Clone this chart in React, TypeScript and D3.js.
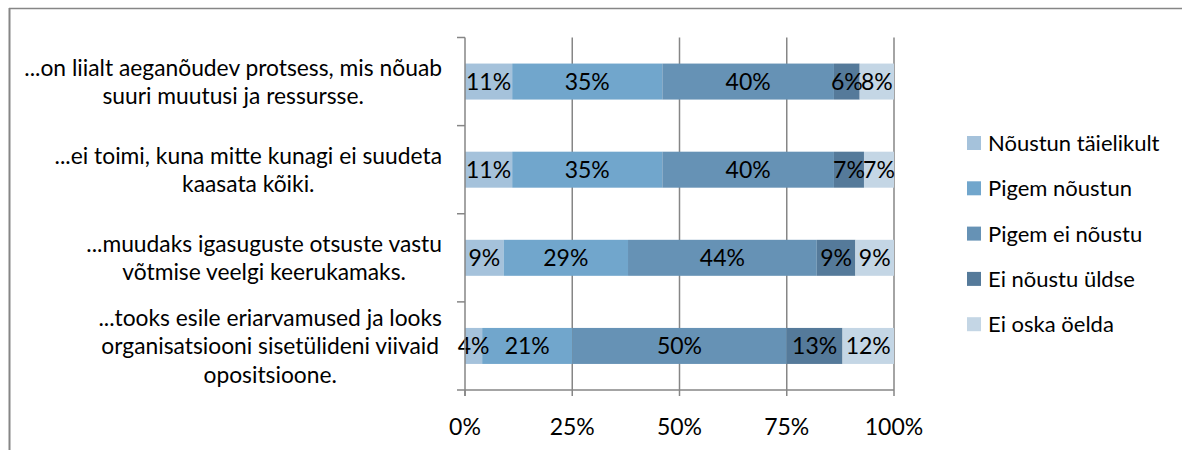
import React, { useEffect, useRef } from 'react';
import * as d3 from 'd3';

// statements (y categories), each split into its wrapped lines
const categories = [
  ['...on liialt aeganõudev protsess, mis nõuab', 'suuri muutusi ja ressursse.'],
  ['...ei toimi, kuna mitte kunagi ei suudeta', 'kaasata kõiki.'],
  ['...muudaks igasuguste otsuste vastu', 'võtmise veelgi keerukamaks.'],
  ['...tooks esile eriarvamused ja looks', 'organisatsiooni sisetülideni viivaid', 'opositsioone.'],
];

const seriesNames = ['Nõustun täielikult', 'Pigem nõustun', 'Pigem ei nõustu', 'Ei nõustu üldse', 'Ei oska öelda'];
const seriesColors = ['#a5c2db', '#71a6cc', '#6692b5', '#557a9a', '#c4d6e5'];

// percent per category, top to bottom
const noustunTaielikult = [11, 11, 9, 4];
const pigemNoustun = [35, 35, 29, 21];
const pigemEiNoustu = [40, 40, 44, 50];
const eiNoustuUldse = [6, 7, 9, 13];
const eiOskaOelda = [8, 7, 9, 12];

const tickValues = [0, 25, 50, 75, 100];

const FONT = 'Lato, "Open Sans", sans-serif';
const GRID = '#868686';

export default function App() {
  const ref = useRef<SVGSVGElement>(null);

  useEffect(() => {
    const svg = d3.select(ref.current);
    svg.selectAll('*').remove();

    const width = 1182;
    const height = 450;
    const left = 465, right = 894, top = 37.5, bottom = 390;
    const barH = 36;

    const series = [noustunTaielikult, pigemNoustun, pigemEiNoustu, eiNoustuUldse, eiOskaOelda];
    const rows = categories.map((c, i) => {
      let acc = 0;
      return series.map((s, k) => {
        const seg = { k, v: s[i], x0: acc, x1: acc + s[i] };
        acc += s[i];
        return seg;
      });
    });

    const x = d3.scaleLinear().domain([0, 100]).range([left, right]);
    const y = d3.scaleBand<number>().domain(d3.range(categories.length)).range([top, bottom]).padding(0);

    // outer frame (top + left edges visible)
    svg.append('line').attr('x1', 9).attr('x2', width).attr('y1', 8.5).attr('y2', 8.5)
      .attr('stroke', GRID).attr('stroke-width', 1.5);
    svg.append('line').attr('x1', 9.5).attr('x2', 9.5).attr('y1', 8).attr('y2', height)
      .attr('stroke', GRID).attr('stroke-width', 2);

    // vertical gridlines
    svg.append('g').selectAll('line')
      .data(tickValues.slice(1))
      .enter().append('line')
      .attr('x1', d => x(d)).attr('x2', d => x(d))
      .attr('y1', top).attr('y2', bottom)
      .attr('stroke', GRID).attr('stroke-width', 1.5);

    // bars
    const g = svg.append('g');
    rows.forEach((segs, i) => {
      const cy = (y(i) as number) + y.bandwidth() / 2;
      g.selectAll('rect.r' + i)
        .data(segs)
        .enter().append('rect')
        .attr('class', 'r' + i)
        .attr('x', d => x(d.x0))
        .attr('width', d => x(d.x1) - x(d.x0))
        .attr('y', cy - barH / 2)
        .attr('height', barH)
        .attr('fill', d => seriesColors[d.k]);
      g.selectAll('text.t' + i)
        .data(segs)
        .enter().append('text')
        .attr('class', 't' + i)
        .attr('x', d => x((d.x0 + d.x1) / 2))
        .attr('y', cy)
        .attr('dy', '0.36em')
        .attr('text-anchor', 'middle')
        .attr('font-family', FONT)
        .attr('font-size', 23)
        .attr('fill', '#000')
        .text(d => d.v + '%');
    });

    // y axis line + ticks at band edges
    svg.append('line').attr('x1', left).attr('x2', left).attr('y1', top).attr('y2', bottom + 6)
      .attr('stroke', GRID).attr('stroke-width', 1.5);
    svg.append('g').selectAll('line')
      .data(d3.range(categories.length + 1))
      .enter().append('line')
      .attr('x1', left - 8).attr('x2', left)
      .attr('y1', d => top + d * y.step()).attr('y2', d => top + d * y.step())
      .attr('stroke', GRID).attr('stroke-width', 1.5);

    // x axis
    svg.append('line').attr('x1', left).attr('x2', right).attr('y1', bottom).attr('y2', bottom)
      .attr('stroke', GRID).attr('stroke-width', 1.5);
    svg.append('g').selectAll('line')
      .data(tickValues)
      .enter().append('line')
      .attr('x1', d => x(d)).attr('x2', d => x(d))
      .attr('y1', bottom).attr('y2', bottom + 6)
      .attr('stroke', GRID).attr('stroke-width', 1.5);
    svg.append('g').selectAll('text')
      .data(tickValues)
      .enter().append('text')
      .attr('x', d => x(d))
      .attr('y', 427)
      .attr('dy', '0.36em')
      .attr('text-anchor', 'middle')
      .attr('font-family', FONT)
      .attr('font-size', 23)
      .attr('fill', '#000')
      .text(d => d + '%');

    // category labels, centred block whose widest line ends at labelRight
    const labelRight = 442;
    const lineH = 28.5;
    categories.forEach((lines, i) => {
      const cy = (y(i) as number) + y.bandwidth() / 2;
      const tg = svg.append('g');
      const texts = tg.selectAll('text')
        .data(lines)
        .enter().append('text')
        .attr('y', (d, j) => cy + (j - (lines.length - 1) / 2) * lineH)
        .attr('dy', '0.36em')
        .attr('text-anchor', 'middle')
        .attr('font-family', FONT)
        .attr('font-size', 22.8)
        .attr('fill', '#000')
        .text(d => d);
      let maxW = 0;
      texts.each(function () {
        maxW = Math.max(maxW, (this as SVGTextElement).getComputedTextLength());
      });
      texts.attr('x', labelRight - maxW / 2);
    });

    // legend
    const lg = svg.append('g').selectAll('g')
      .data(seriesNames)
      .enter().append('g')
      .attr('transform', (d, i) => `translate(967, ${143 + i * 45.3})`);
    lg.append('rect').attr('x', 0).attr('y', -7).attr('width', 14).attr('height', 14)
      .attr('fill', (d, i) => seriesColors[i]);
    lg.append('text').attr('x', 21).attr('y', 0).attr('dy', '0.36em')
      .attr('font-family', FONT).attr('font-size', 22).attr('fill', '#000')
      .text(d => d);
  }, []);

  return (
    <div style={{ position: 'absolute', left: 0, top: 0 }}>
      <svg ref={ref} width={1182} height={450} style={{ display: 'block', background: '#fff' }} />
    </div>
  );
}
